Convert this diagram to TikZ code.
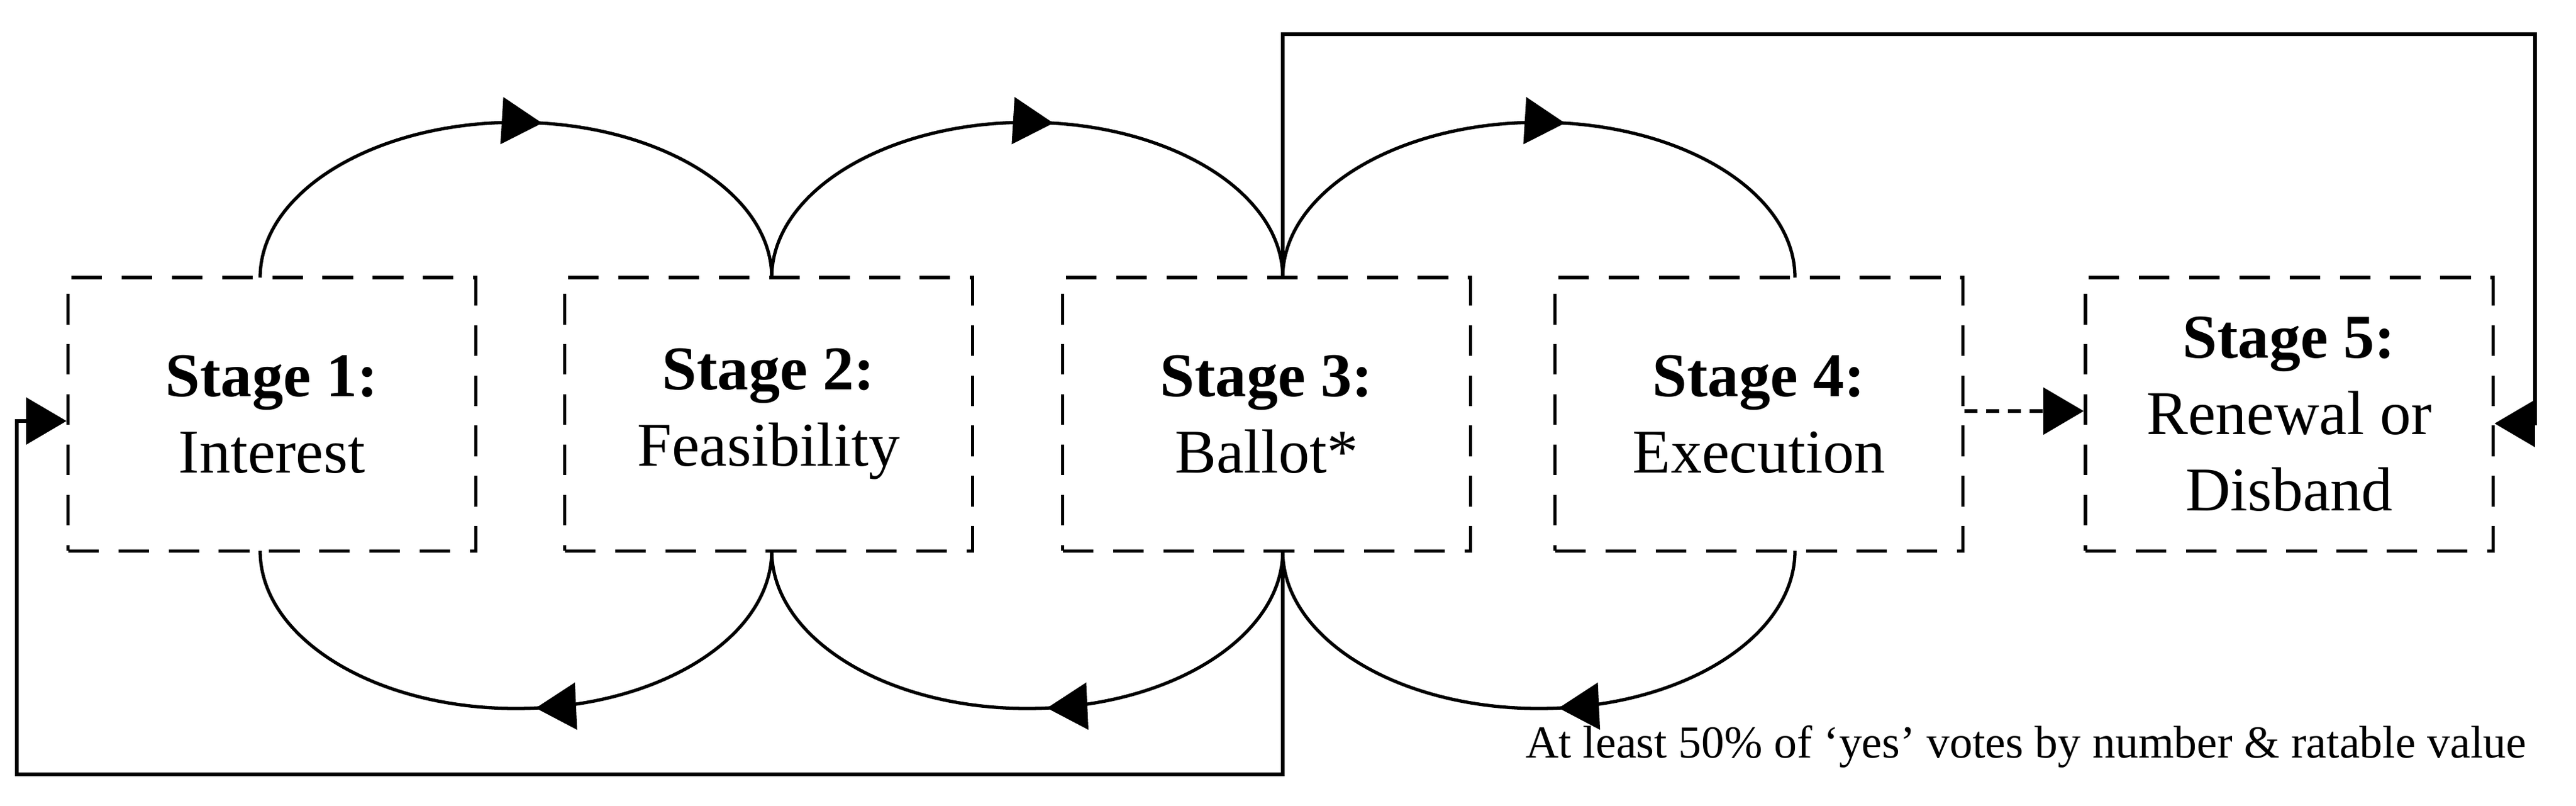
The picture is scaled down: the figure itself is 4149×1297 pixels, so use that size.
\documentclass[tikz,border=0pt]{standalone}
\usepackage{fontspec}
\setmainfont{Liberation Serif}
\usetikzlibrary{arrows.meta,decorations.markings}
\begin{document}
\begin{tikzpicture}[x=0.01cm,y=-0.01cm,line width=1.5pt,
  stage/.style={draw,dashed,dash pattern=on 14pt off 9pt,minimum width=6.56cm,minimum height=4.4cm,align=center,font=\fontsize{28.5}{35}\selectfont},
  tip/.style={-{Triangle[length=6.5mm,width=7.5mm]}},
  mid/.style={postaction=decorate,decoration={markings,mark=at position #1 with {\arrow{Triangle[length=6.5mm,width=7.5mm]}}}}]
\useasboundingbox (0,0) rectangle (4149,1297);
\node[stage] (b1) at (438,667) {\textbf{Stage 1:}\\Interest};
\node[stage] (b2) at (1238,667) {\textbf{Stage 2:}\\Feasibility};
\node[stage] (b3) at (2040,667) {\textbf{Stage 3:}\\Ballot*};
\node[stage] (b4) at (2833,667) {\textbf{Stage 4:}\\Execution};
\node[stage] (b5) at (3687,667) {\textbf{Stage 5:}\\Renewal or\\Disband};
\coordinate (t1) at (419,447); \coordinate (t2) at (1243,447);
\coordinate (t3) at (2066,447); \coordinate (t4) at (2891,447);
\coordinate (u1) at (419,887); \coordinate (u2) at (1243,887);
\coordinate (u3) at (2066,887); \coordinate (u4) at (2891,887);
\draw[mid=0.54] (t1) arc[start angle=180,end angle=0,x radius=412,y radius=-250];
\draw[mid=0.54] (t2) arc[start angle=180,end angle=0,x radius=411.5,y radius=-250];
\draw[mid=0.54] (t3) arc[start angle=180,end angle=0,x radius=412.5,y radius=-250];
\draw[mid=0.47] (u2) arc[start angle=0,end angle=-180,x radius=412,y radius=-254];
\draw[mid=0.47] (u3) arc[start angle=0,end angle=-180,x radius=411.5,y radius=-254];
\draw[mid=0.47] (u4) arc[start angle=0,end angle=-180,x radius=412.5,y radius=-254];
\coordinate (c1) at (2066,1247); \coordinate (c2) at (27,1247); \coordinate (c3) at (27,678);
\draw[tip] (u3) -- (c1) -- (c2) -- (c3) -- (c3 -| b1.west);
\coordinate (d1) at (2066,55); \coordinate (d2) at (4083,55); \coordinate (d3) at (4083,682);
\draw[tip] (t3) -- (d1) -- (d2) -- (d3) -- (d3 -| b5.east);
\draw[tip,dash pattern=on 6pt off 4pt] (b4.east |- 0,662) -- (b5.west |- 0,662);
\node[anchor=base east,font=\fontsize{21}{24}\selectfont,inner sep=0] (note) at (4072,1220) {At least 50\% of ‘yes’ votes by number \& ratable value};
\end{tikzpicture}
\end{document}
